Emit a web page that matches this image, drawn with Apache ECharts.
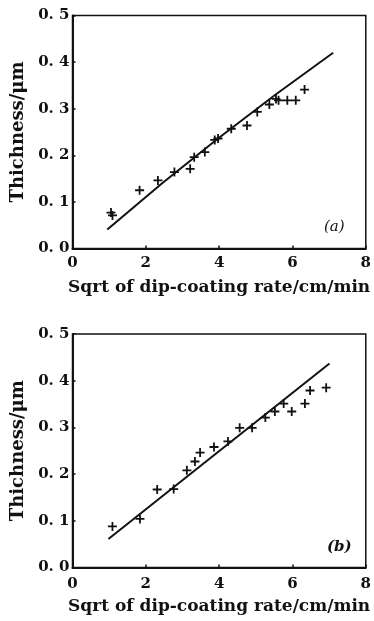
<!DOCTYPE html>
<html>
<head>
<meta charset="utf-8">
<script src="https://cdn.jsdelivr.net/npm/echarts@6/dist/echarts.min.js"></script>
<style>
  html, body { margin: 0; padding: 0; background: #fff; }
  #chart { width: 374px; height: 621px; }
</style>
</head>
<body>
<div id="chart"></div>
<script>
  // panel (a)
  let rateA = [1.05, 1.09, 1.83, 2.33, 2.78, 3.21, 3.32, 3.61, 3.88, 3.97, 4.33, 4.76, 5.04, 5.37, 5.55, 5.62, 5.86, 6.09, 6.33];
  let thickA = [0.077, 0.071, 0.125, 0.146, 0.164, 0.171, 0.196, 0.207, 0.233, 0.236, 0.257, 0.264, 0.293, 0.309, 0.321, 0.318, 0.318, 0.318, 0.341];
  let fitRateA = [0.95, 3.97, 7.11];
  let fitThickA = [0.041, 0.236, 0.42];

  // panel (b)
  let rateB = [1.09, 1.84, 2.31, 2.76, 3.12, 3.34, 3.48, 3.86, 4.24, 4.56, 4.90, 5.26, 5.52, 5.76, 5.98, 6.34, 6.48, 6.92];
  let thickB = [0.088, 0.104, 0.167, 0.168, 0.208, 0.227, 0.246, 0.258, 0.270, 0.299, 0.299, 0.321, 0.334, 0.351, 0.334, 0.351, 0.379, 0.385];
  let fitRateB = [0.98, 7.01];
  let fitThickB = [0.061, 0.437];

  let xTickLabels = ['0', '2', '4', '6', '8'];
  let yTickLabels = ['0. 0', '0. 1', '0. 2', '0. 3', '0. 4', '0. 5'];

  let xName = 'Sqrt of dip-coating rate/cm/min';
  let yName = 'Thichness/\u03bcm';

  let serif = '"DejaVu Serif", "Liberation Serif", serif';
  let plus = 'path://M4,0h2v4h4v2h-4v4h-2v-4h-4v-2h4z';

  function pairs(xs, ys) {
    return xs.map(function (x, i) { return [x, ys[i]]; });
  }

  function xAxisOf(idx, margin, gap) {
    return {
      gridIndex: idx,
      type: 'value',
      min: 0, max: 8, interval: 2,
      name: xName,
      nameLocation: 'middle',
      nameGap: gap,
      nameTextStyle: { color: '#111', fontFamily: serif, fontSize: 17, fontWeight: 'bold' },
      axisLine: { onZero: false, lineStyle: { color: '#111', width: 2 } },
      axisTick: { inside: true, length: 3, lineStyle: { color: '#111', width: 1.5 } },
      splitLine: { show: false },
      axisLabel: {
        margin: margin, color: '#111', fontFamily: serif, fontSize: 15, fontWeight: 'bold',
        formatter: function (v) { return xTickLabels[Math.round(v / 2)]; }
      }
    };
  }

  function yAxisOf(idx) {
    return {
      gridIndex: idx,
      type: 'value',
      min: 0, max: 0.5, interval: 0.1,
      name: yName,
      nameLocation: 'middle',
      nameGap: 44,
      nameTextStyle: { color: '#111', fontFamily: serif, fontSize: 18, fontWeight: 'bold' },
      axisLine: { onZero: false, lineStyle: { color: '#111', width: 2 } },
      axisTick: { inside: true, length: 3, lineStyle: { color: '#111', width: 1.5 } },
      splitLine: { show: false },
      axisLabel: {
        margin: 3, color: '#111', fontFamily: serif, fontSize: 15, fontWeight: 'bold',
        formatter: function (v) { return yTickLabels[Math.round(v * 10)]; }
      }
    };
  }

  let myChart = echarts.init(document.getElementById('chart'), null, { renderer: 'canvas' });

  let option = {
    animation: false,
    backgroundColor: '#fff',
    grid: [
      { left: 72.5, right: 3.5, top: 15.5, height: 233, show: true, borderColor: '#111', borderWidth: 1.5 },
      { left: 72.5, right: 3.5, top: 334, height: 233.5, show: true, borderColor: '#111', borderWidth: 1.5 }
    ],
    xAxis: [xAxisOf(0, 7, 31), xAxisOf(1, 9, 31)],
    yAxis: [yAxisOf(0), yAxisOf(1)],
    graphic: [
      { type: 'text', left: 324, top: 220, style: { text: '(a)', fill: '#111', font: 'italic 15px ' + serif } },
      { type: 'text', left: 327, top: 540, style: { text: '(b)', fill: '#111', font: 'italic bold 15px ' + serif } }
    ],
    series: [
      {
        type: 'line', xAxisIndex: 0, yAxisIndex: 0,
        data: pairs(fitRateA, fitThickA), smooth: true,
        showSymbol: false, lineStyle: { color: '#111', width: 2 }
      },
      {
        type: 'scatter', xAxisIndex: 0, yAxisIndex: 0,
        data: pairs(rateA, thickA), symbol: plus, symbolSize: 9,
        itemStyle: { color: '#111', opacity: 1 }
      },
      {
        type: 'line', xAxisIndex: 1, yAxisIndex: 1,
        data: pairs(fitRateB, fitThickB),
        showSymbol: false, lineStyle: { color: '#111', width: 2 }
      },
      {
        type: 'scatter', xAxisIndex: 1, yAxisIndex: 1,
        data: pairs(rateB, thickB), symbol: plus, symbolSize: 9,
        itemStyle: { color: '#111', opacity: 1 }
      }
    ]
  };

  myChart.setOption(option);
</script>
</body>
</html>
